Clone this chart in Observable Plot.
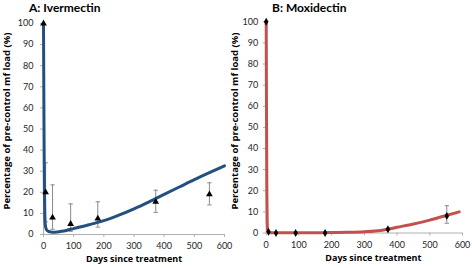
<!DOCTYPE html>
<html><head><meta charset="utf-8">
<script src="https://cdn.jsdelivr.net/npm/d3@7"></script>
<script src="https://cdn.jsdelivr.net/npm/@observablehq/plot@0.6"></script>
<style>
body{margin:0;background:#fff;}
#wrap{position:relative;width:472px;height:268px;overflow:hidden;font-family:Lato,sans-serif;}
.title{position:absolute;top:0;font-weight:bold;font-size:12px;color:#000;line-height:15px;white-space:nowrap;}
.panel{position:absolute;top:0;}
</style></head><body><div id="wrap"></div>
<script>
// ---- Data ----
const xTicks = [0, 100, 200, 300, 400, 500, 600];
const yTicks = [0, 10, 20, 30, 40, 50, 60, 70, 80, 90, 100];
const xLabel = "Days since treatment";
const yLabel = "Percentage of pre-control mf load (%)";
const titleA = "A: Ivermectin";
const titleB = "B: Moxidectin";

// Ivermectin observed (triangles) with error bars
const ivmDays = [0, 7, 30, 90, 180, 372, 550];
const ivmMean = [100, 20, 8, 5, 7.5, 15.5, 19];
const ivmLow  = [null, 6, 2.5, 1.5, 3.5, 10.5, 14];
const ivmHigh = [null, 34, 23.5, 14.5, 15.5, 21, 24.5];
// Ivermectin model curve
const ivmCurveDays = [0, 1, 2, 3, 4, 5, 6, 8, 10, 14, 20, 30, 45, 60, 80, 100, 150, 200, 250, 300, 350, 400, 450, 500, 550, 600];
const ivmCurveVals = [100, 70, 42, 22, 11, 6.5, 4.5, 3, 2.3, 1.7, 1.3, 1.1, 1.2, 1.5, 2.1, 2.8, 4.6, 6.6, 9.2, 12.2, 15.5, 19, 22.5, 26, 29.3, 32.5];

// Moxidectin observed (diamonds) with error bars
const moxDays = [0, 7, 30, 90, 180, 372, 552];
const moxMean = [100, 0.6, 0, 0, 0, 1.8, 8.1];
const moxLow  = [null, null, null, null, null, null, 4.6];
const moxHigh = [null, null, null, null, null, null, 12.9];
// Moxidectin model curve
const moxCurveDays = [0, 1, 2, 3, 4, 5, 7, 10, 20, 50, 100, 150, 200, 250, 300, 350, 372, 400, 450, 500, 550, 590];
const moxCurveVals = [100, 55, 20, 6, 2, 0.8, 0.3, 0.15, 0.1, 0.1, 0.1, 0.15, 0.25, 0.35, 0.6, 1.2, 1.8, 2.7, 4.3, 6.1, 8.3, 10];

// ---- Build ----
const capSymbol = {draw(ctx, size) { const r = Math.sqrt(size / Math.PI); ctx.moveTo(-r, 0); ctx.lineTo(r, 0); }};
const zip = (d, m, lo, hi) => d.map((x, i) => ({day: x, v: m[i], lo: lo[i], hi: hi[i]}));
const curve = (d, v) => d.map((x, i) => ({day: x, v: v[i]}));

function panel(opts) {
  const obs = zip(opts.days, opts.mean, opts.low, opts.high);
  const bars = obs.filter(d => d.lo != null);
  const fit = curve(opts.cDays, opts.cVals);
  return Plot.plot({
    width: opts.width, height: 268,
    marginLeft: opts.ml, marginRight: opts.mr, marginTop: opts.mt, marginBottom: opts.mb,
    style: {fontFamily: "Lato, sans-serif", fontSize: "9px", color: "#262626", background: "transparent", overflow: "visible"},
    x: {domain: [0, 600], axis: null},
    y: {domain: [0, 100], axis: null},
    marks: [
      Plot.ruleY([0], {stroke: "#b0b0b0"}),
      Plot.ruleX([0], {stroke: "#b0b0b0"}),
      Plot.axisX({ticks: xTicks, tickSize: 3, tickPadding: opts.xpad, stroke: "#b0b0b0", label: null}),
      Plot.axisY({ticks: yTicks, tickSize: 3, tickPadding: opts.ypad, stroke: "#b0b0b0", label: null}),
      Plot.ruleX(bars, {x: "day", y1: "lo", y2: "hi", stroke: "#8a8a8a", strokeWidth: 1}),
      Plot.dot(bars, {x: "day", y: "lo", symbol: capSymbol, r: 2.2, stroke: "#8a8a8a", strokeWidth: 1}),
      Plot.dot(bars, {x: "day", y: "hi", symbol: capSymbol, r: 2.2, stroke: "#8a8a8a", strokeWidth: 1}),
      Plot.line(fit, {x: "day", y: "v", stroke: opts.color, strokeWidth: 3, curve: "monotone-x"}),
      Plot.dot(obs, {x: "day", y: "v", symbol: opts.symbol, r: opts.r, fill: "#000", stroke: "none"}),
      Plot.text([xLabel], {frameAnchor: "bottom", textAnchor: "middle", dy: opts.xdy, dx: opts.xdx, text: d => d, fontWeight: "bold", fontSize: 9, fontFamily: "Open Sans", fill: "#000"}),
      Plot.text([yLabel], {frameAnchor: "left", textAnchor: "middle", dx: opts.ydx, dy: opts.ydy, rotate: -90, text: d => d, fontWeight: "bold", fontSize: 9.5, fontFamily: "Open Sans", fill: "#000"})
    ]
  });
}

const wrap = document.getElementById("wrap");
const A = panel({width: 226, ml: 43, mr: 2, mt: 23, mb: 34, xpad: 5, ypad: 7,
  days: ivmDays, mean: ivmMean, low: ivmLow, high: ivmHigh, cDays: ivmCurveDays, cVals: ivmCurveVals,
  color: "#23507f", symbol: "triangle", r: 2.5, xdy: 27, xdx: 0, ydx: -37, ydy: -8});
const B = panel({width: 246, ml: 39.7, mr: 10, mt: 21.3, mb: 35.5, xpad: 5.5, ypad: 5,
  days: moxDays, mean: moxMean, low: moxLow, high: moxHigh, cDays: moxCurveDays, cVals: moxCurveVals,
  color: "#c4504d", symbol: "diamond", r: 2.4, xdy: 28, xdx: 9, ydx: -31.7, ydy: -6.4});
A.classList.add("panel"); A.style.left = "0px";
B.classList.add("panel"); B.style.left = "226px";
wrap.appendChild(A); wrap.appendChild(B);
const tA = document.createElement("div"); tA.className = "title"; tA.style.left = "29px"; tA.textContent = titleA;
const tB = document.createElement("div"); tB.className = "title"; tB.style.left = "272px"; tB.textContent = titleB;
wrap.appendChild(tA); wrap.appendChild(tB);
</script></body></html>
